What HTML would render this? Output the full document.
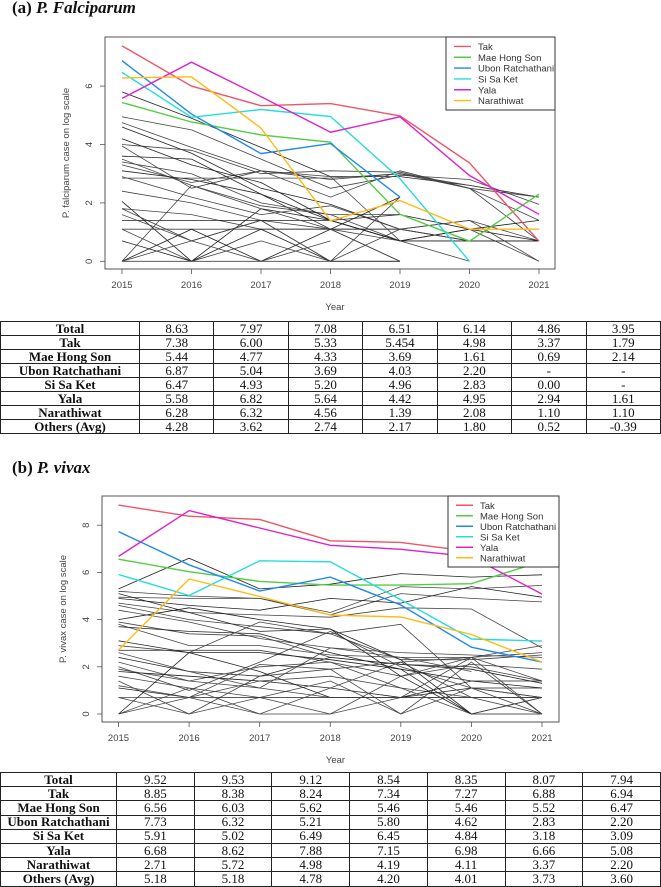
<!DOCTYPE html>
<html><head><meta charset="utf-8">
<style>
body{margin:0;width:661px;height:886px;background:#fff;position:relative;overflow:hidden;font-family:"Liberation Sans",sans-serif}
.title{position:absolute;left:12px;font-family:"Liberation Serif",serif;font-weight:bold;font-size:17px;color:#111}
.title i{font-style:italic}
svg{position:absolute;left:0}
table{position:absolute;left:0;width:661px;border-collapse:collapse;font-family:"Liberation Serif",serif;font-size:13px;table-layout:fixed}
td{border:1px solid #222;text-align:center;padding:0;line-height:12px;color:#111}
td:first-child{font-weight:bold}
</style></head><body>
<div class="title" style="top:-2px">(a) <i>P. Falciparum</i></div>
<svg id="chartA" width="661" height="320" style="top:0"></svg>
<table id="tabA" style="top:321px">
<colgroup><col style="width:139px"><col><col><col><col><col><col><col></colgroup>
<tr style="height:14px"><td>Total</td><td>8.63</td><td>7.97</td><td>7.08</td><td>6.51</td><td>6.14</td><td>4.86</td><td>3.95</td></tr>
<tr style="height:14px"><td>Tak</td><td>7.38</td><td>6.00</td><td>5.33</td><td>5.454</td><td>4.98</td><td>3.37</td><td>1.79</td></tr>
<tr style="height:14px"><td>Mae Hong Son</td><td>5.44</td><td>4.77</td><td>4.33</td><td>3.69</td><td>1.61</td><td>0.69</td><td>2.14</td></tr>
<tr style="height:14px"><td>Ubon Ratchathani</td><td>6.87</td><td>5.04</td><td>3.69</td><td>4.03</td><td>2.20</td><td>-</td><td>-</td></tr>
<tr style="height:14px"><td>Si Sa Ket</td><td>6.47</td><td>4.93</td><td>5.20</td><td>4.96</td><td>2.83</td><td>0.00</td><td>-</td></tr>
<tr style="height:14px"><td>Yala</td><td>5.58</td><td>6.82</td><td>5.64</td><td>4.42</td><td>4.95</td><td>2.94</td><td>1.61</td></tr>
<tr style="height:14px"><td>Narathiwat</td><td>6.28</td><td>6.32</td><td>4.56</td><td>1.39</td><td>2.08</td><td>1.10</td><td>1.10</td></tr>
<tr style="height:14px"><td>Others (Avg)</td><td>4.28</td><td>3.62</td><td>2.74</td><td>2.17</td><td>1.80</td><td>0.52</td><td>-0.39</td></tr>
</table>
<div class="title" style="top:458px">(b) <i>P. vivax</i></div>
<svg id="chartB" width="661" height="300" style="top:470px"></svg>
<table id="tabB" style="top:772px">
<colgroup><col style="width:116px"><col><col><col><col><col><col><col></colgroup>
<tr style="height:14.2px"><td>Total</td><td>9.52</td><td>9.53</td><td>9.12</td><td>8.54</td><td>8.35</td><td>8.07</td><td>7.94</td></tr>
<tr style="height:14.2px"><td>Tak</td><td>8.85</td><td>8.38</td><td>8.24</td><td>7.34</td><td>7.27</td><td>6.88</td><td>6.94</td></tr>
<tr style="height:14.2px"><td>Mae Hong Son</td><td>6.56</td><td>6.03</td><td>5.62</td><td>5.46</td><td>5.46</td><td>5.52</td><td>6.47</td></tr>
<tr style="height:14.2px"><td>Ubon Ratchathani</td><td>7.73</td><td>6.32</td><td>5.21</td><td>5.80</td><td>4.62</td><td>2.83</td><td>2.20</td></tr>
<tr style="height:14.2px"><td>Si Sa Ket</td><td>5.91</td><td>5.02</td><td>6.49</td><td>6.45</td><td>4.84</td><td>3.18</td><td>3.09</td></tr>
<tr style="height:14.2px"><td>Yala</td><td>6.68</td><td>8.62</td><td>7.88</td><td>7.15</td><td>6.98</td><td>6.66</td><td>5.08</td></tr>
<tr style="height:14.2px"><td>Narathiwat</td><td>2.71</td><td>5.72</td><td>4.98</td><td>4.19</td><td>4.11</td><td>3.37</td><td>2.20</td></tr>
<tr style="height:14.2px"><td>Others (Avg)</td><td>5.18</td><td>5.18</td><td>4.78</td><td>4.20</td><td>4.01</td><td>3.73</td><td>3.60</td></tr>
</table>
<script>
const years = [2015,2016,2017,2018,2019,2020,2021];
const provinces = ["Tak","Mae Hong Son","Ubon Ratchathani","Si Sa Ket","Yala","Narathiwat"];
const provColors = ["#ee5566","#55cc44","#2288ee","#22dddd","#dd22cc","#ffbb11"];
const yTicksA = [0,2,4,6];
const yTicksB = [0,2,4,6,8];
const falTak = [7.38,6.00,5.33,5.40,4.98,3.37,0.69];
const falMHS = [5.44,4.77,4.33,4.08,1.61,0.69,2.30];
const falUbon = [6.87,5.04,3.69,4.03,2.20,null,null];
const falSSK = [6.47,4.93,5.20,4.96,2.83,0.00,null];
const falYala = [5.58,6.82,5.64,4.42,4.95,2.94,1.61];
const falNara = [6.28,6.32,4.56,1.39,2.08,1.10,1.10];
const falOthers = [
[5.8,4.9,3.9,2.9,2.9,2.6,2.2],[4.95,4.5,3.5,2.5,2.95,2.8,1.95],[4.75,3.9,3.1,2.8,3.0,2.5,2.2],
[4.6,3.7,2.5,1.95,1.1,0.7,0.7],[4.0,3.8,3.0,3.1,3.05,2.5,1.4],[3.95,2.5,3.1,2.2,3.1,2.5,0.7],
[3.6,3.5,2.3,1.4,0.7,0.7,0.7],[3.5,2.6,1.9,1.6,1.6,null,null],[3.3,2.7,3.1,2.9,0.7,1.1,0],
[3.1,2.8,2.3,1.1,0,null,null],[2.85,2.85,2.85,2.85,3.0,2.6,2.2],[2.4,2.0,1.4,0,1.1,1.4,0.7],
[2.05,0,1.8,1.4,0.7,1.1,0.7],[1.8,1.6,1.1,1.1,1.1,0.7,0.7],[1.8,0.7,1.4,1.1,0,null,null],
[1.4,1.4,1.4,1.4,1.6,1.1,1.4],[1.1,1.1,1.1,1.1,1.1,0.7,0.7],[1.1,0,0.7,0,null,null,null],
[0.7,0,1.1,0,0,null,null],[0,2.6,1.8,1.1,0.7,0.7,0.7],[0,0,0,0,0,null,null],
[0,1.1,0,1.1,2.2,null,null],[3.4,3.0,2.0,1.6,0.7,0,null],[2.9,2.2,1.6,1.9,1.1,1.4,0],
[4.2,3.3,2.7,1.4,0.7,0.7,0.7],[1.6,0.7,0,0.7,null,null,null],[0,0.7,1.4,0,2.2,null,null]
];
const vivTak = [8.85,8.38,8.24,7.34,7.27,6.88,6.94];
const vivMHS = [6.56,6.03,5.62,5.46,5.46,5.52,6.47];
const vivUbon = [7.73,6.32,5.21,5.80,4.62,2.83,2.20];
const vivSSK = [5.91,5.02,6.49,6.45,4.84,3.18,3.09];
const vivYala = [6.68,8.62,7.88,7.15,6.98,6.66,5.08];
const vivNara = [2.71,5.72,4.98,4.19,4.11,3.37,2.20];
const vivOthers = [
[5.3,6.6,5.3,5.5,5.95,5.8,5.9],[5.2,5.0,4.9,4.3,5.4,5.3,5.45],[4.95,4.9,4.9,4.2,5.1,4.9,4.75],
[4.9,4.6,4.4,4.9,4.7,5.4,4.95],[4.7,4.3,4.2,4.1,4.5,4.45,2.8],[4.6,4.0,3.7,3.4,2.3,2.3,2.5],
[4.0,4.5,4.0,3.6,2.3,0,0],[3.9,3.4,3.3,2.4,2.1,2.0,1.4],[3.8,2.9,2.9,2.5,2.4,2.4,2.6],
[3.7,3.5,3.4,2.6,1.9,0,0.7],[2.9,2.6,3.9,3.4,3.8,1.1,0.7],[2.7,2.7,2.7,2.2,1.6,2.4,2.9],
[2.4,1.8,1.6,2.4,2.1,1.9,1.3],[2.2,1.4,2.0,2.2,1.1,0.7,0.7],[2.0,1.0,2.2,3.5,2.0,1.1,0],
[1.8,1.6,1.4,1.1,0.7,0.7,0.7],[1.6,1.1,0.7,0,0.7,2.4,1.4],[1.4,0,1.6,1.9,0,2.2,0],
[1.1,0.7,0.7,0.7,0.7,1.1,1.1],[0.7,0,0.7,1.4,0,1.1,0.7],[0,1.1,0,1.1,2.2,0.7,0],
[0,2.6,1.8,0.7,0.7,1.4,1.4],[0,0.7,1.4,1.6,1.1,0,0.7],[0.7,0.7,0,0,1.6,2.1,1.9],
[5.1,4.3,3.5,3.6,1.6,0,null],[1.9,1.4,1.1,2.8,2.4,1.8,null],[4.4,3.9,3.2,2.8,2.6,2.5,2.4],
[3.1,2.6,2.6,2.3,1.9,1.4,1.1],[2.6,1.8,1.1,0.7,0.7,0.7,0.7],[1.2,0.7,2.1,1.9,2.2,2.4,0]
];

const NS="http://www.w3.org/2000/svg";
function mk(svg,tag,attrs){const e=document.createElementNS(NS,tag);for(const k in attrs)e.setAttribute(k,attrs[k]);svg.appendChild(e);return e;}

function drawChart(svg,cfg,others,series,yTicks,ylabel){
  const xS=i=>cfg.x0+(cfg.x1-cfg.x0)*i/(years.length-1);
  const yS=v=>cfg.yZero-v*cfg.ppu;
  // box
  const box=mk(svg,'rect',{x:cfg.L,y:cfg.T,width:cfg.R-cfg.L,height:cfg.B-cfg.T,fill:'none',stroke:'#555','stroke-width':1});
  
  
  function line(vals,color,w,name){
    let d='';let pen=false;
    vals.forEach((v,i)=>{if(v===null||v===undefined){pen=false;return;}d+=(pen?'L':'M')+xS(i).toFixed(1)+' '+yS(v).toFixed(1);pen=true;});
    const p=mk(svg,'path',{d:d,fill:'none',stroke:color,'stroke-width':w});
    
    
  }
  others.forEach((s,k)=>line(s,k%3===0?'#222':'#444',0.8,'other-province-line'));
  series.forEach((s,k)=>line(s,provColors[k],1.4,'line-'+provinces[k].toLowerCase().replace(/ /g,'-')));
  // x ticks
  years.forEach((yr,i)=>{
    mk(svg,'line',{x1:xS(i),x2:xS(i),y1:cfg.B,y2:cfg.B+5,stroke:'#555','stroke-width':0.8});
    const t=mk(svg,'text',{x:xS(i),y:cfg.B+19,'font-size':9.5,'text-anchor':'middle',fill:'#444'});
    t.textContent=yr;
    
    
  });
  yTicks.forEach(v=>{
    mk(svg,'line',{x1:cfg.L,x2:cfg.L-5,y1:yS(v),y2:yS(v),stroke:'#555','stroke-width':0.8});
    const t=mk(svg,'text',{x:cfg.L-13,y:yS(v),'font-size':9.5,'text-anchor':'middle',fill:'#444',transform:'rotate(-90 '+(cfg.L-13)+' '+yS(v)+')'});
    t.textContent=v;
    
    
  });
  const xt=mk(svg,'text',{x:(cfg.L+cfg.R)/2+5,y:cfg.B+41,'font-size':9.5,'text-anchor':'middle',fill:'#444'});
  xt.textContent='Year';
  
  
  const yc=(cfg.T+cfg.B)/2;
  const yt=mk(svg,'text',{x:cfg.L-36,y:yc,'font-size':9.5,'text-anchor':'middle',fill:'#444',transform:'rotate(-90 '+(cfg.L-36)+' '+yc+')'});
  yt.textContent=ylabel;
  
  
  // legend
  const lg=mk(svg,'rect',{x:cfg.lgX,y:cfg.T,width:cfg.R-cfg.lgX,height:cfg.lgH,fill:'#fff',stroke:'#333','stroke-width':1});
  
  
  const step=(cfg.lgH-8)/6;
  provinces.forEach((p,k)=>{
    const y=cfg.T+4+step*(k+0.5);
    mk(svg,'line',{x1:cfg.lgX+8,x2:cfg.lgX+25,y1:y,y2:y,stroke:provColors[k],'stroke-width':1.4});
    const t=mk(svg,'text',{x:cfg.lgX+32,y:y+3.5,'font-size':9.5,fill:'#333'});
    t.textContent=p;
    
    
  });
}
drawChart(document.getElementById('chartA'),
  {L:105,R:555,T:37,B:269,x0:122,x1:539,yZero:261.3,ppu:29.2,lgX:446,lgH:73},
  falOthers,[falTak,falMHS,falUbon,falSSK,falYala,falNara],yTicksA,'P. falciparum case on log scale');
drawChart(document.getElementById('chartB'),
  {L:102,R:559,T:26,B:252,x0:118.5,x1:542,yZero:244,ppu:23.6,lgX:448,lgH:71},
  vivOthers,[vivTak,vivMHS,vivUbon,vivSSK,vivYala,vivNara],yTicksB,'P. vivax case on log scale');
</script>
</body></html>
